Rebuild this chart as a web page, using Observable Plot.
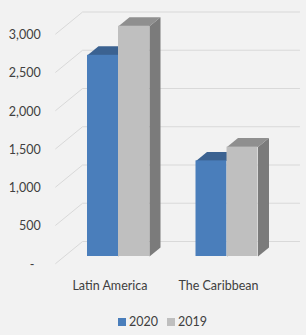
<!DOCTYPE html>
<html>
<head>
<meta charset="utf-8">
<script src="https://cdn.jsdelivr.net/npm/d3@7"></script>
<script src="https://cdn.jsdelivr.net/npm/@observablehq/plot@0.6"></script>
<style>
  html, body { margin: 0; padding: 0; background: #f2f2f2; }
  body { width: 306px; height: 335px; overflow: hidden; font-family: Lato, "Liberation Sans", sans-serif; color: #404040; }
  #legend { display: flex; align-items: center; margin-left: 118px; height: 27px; font-size: 12.5px; }
  #legend .item { display: flex; align-items: center; margin-right: 9px; }
  #legend .sw { width: 8px; height: 8px; margin-right: 3px; }
</style>
</head>
<body>
<div id="chart"></div>
<div id="legend"></div>
<script>
// ---- data ----
const categories = ["Latin America", "The Caribbean"];
const series = ["2020", "2019"];
const values2020 = [2630, 1250];
const values2019 = [3010, 1430];
const ticks = [0, 500, 1000, 1500, 2000, 2500, 3000];

// ---- styling / geometry (not data) ----
const colors = {
  "2020": {front: "#4a7ebb", top: "#3b6291", side: "#2f4f76"},
  "2019": {front: "#bfbfbf", top: "#8f8f8f", side: "#7b7b7b"}
};
const textColor = "#404040";
const barW = 0.2857;          // bar width in category units
const DX = 11 / 108.5;        // depth shift per unit depth (x units)
const DY = 9 / 76.5 * 1000;   // depth shift per unit depth (value units)
const dFront = -0.778;        // floor front edge depth
const dBack = 1.667;          // back wall depth
const xLeft = -0.5, xRight = 1.5;

const P = (x, v, d) => ({x: x + d * DX, y: v + d * DY});

const bars = [];
categories.forEach((c, i) => {
  series.forEach((s, j) => {
    const v = (s === "2020" ? values2020 : values2019)[i];
    const x1 = i - barW + j * barW, x2 = x1 + barW;
    bars.push({cat: c, series: s, v, x1, x2, id: c + s});
  });
});

function topFace(b) {
  return [P(b.x1, b.v, 0), P(b.x1, b.v, 1), P(b.x2, b.v, 1), P(b.x2, b.v, 0)].map(p => ({...p, id: b.id}));
}
function sideFace(b) {
  return [P(b.x2, 0, 0), P(b.x2, b.v, 0), P(b.x2, b.v, 1), P(b.x2, 0, 1)].map(p => ({...p, id: b.id}));
}

const grid = ticks.flatMap(t => [P(xLeft, t, dFront), P(xLeft, t, dBack), P(xRight, t, dBack)].map(p => ({...p, t})));

const marks = [
  Plot.line(grid, {x: "x", y: "y", z: "t", stroke: "#d9d9d9", strokeWidth: 1})
];
for (const s of series) {
  const bs = bars.filter(b => b.series === s);
  marks.push(
    Plot.line(bs.flatMap(sideFace), {x: "x", y: "y", z: "id", fill: colors[s].side, stroke: "none"}),
    Plot.line(bs.flatMap(topFace), {x: "x", y: "y", z: "id", fill: colors[s].top, stroke: "none"}),
    Plot.rect(bs, {x1: "x1", x2: "x2", y1: 0, y2: "v", fill: colors[s].front})
  );
}
// y tick labels at front edge
marks.push(Plot.text(ticks.map(t => ({...P(xLeft, t, dFront), t})), {
  x: "x", y: "y", text: d => d.t === 0 ? "-\u00a0\u00a0" : d3.format(",")(d.t),
  textAnchor: "end", dx: -15, dy: 1, fontSize: 12.5, fill: textColor
}));
// category labels
marks.push(Plot.text(categories.map((c, i) => ({...P(i, 0, dFront), c})), {
  x: "x", y: "y", text: "c", dy: 22, fontSize: 12.5, fill: textColor
}));

const chart = Plot.plot({
  width: 306,
  height: 308,
  margin: 0,
  x: {type: "linear", domain: [-118 / 108.5, (306 - 118) / 108.5], axis: null},
  y: {type: "linear", domain: [0, 3000], range: [256, 26.5], axis: null},
  style: {background: "transparent", fontFamily: "Lato, 'Liberation Sans', sans-serif"},
  marks
});
document.getElementById("chart").appendChild(chart);

const legend = document.getElementById("legend");
for (const s of series) {
  const it = document.createElement("div");
  it.className = "item";
  const sw = document.createElement("div");
  sw.className = "sw";
  sw.style.background = colors[s].front;
  const lb = document.createElement("span");
  lb.textContent = s;
  it.appendChild(sw); it.appendChild(lb);
  legend.appendChild(it);
}
</script>
</body>
</html>
